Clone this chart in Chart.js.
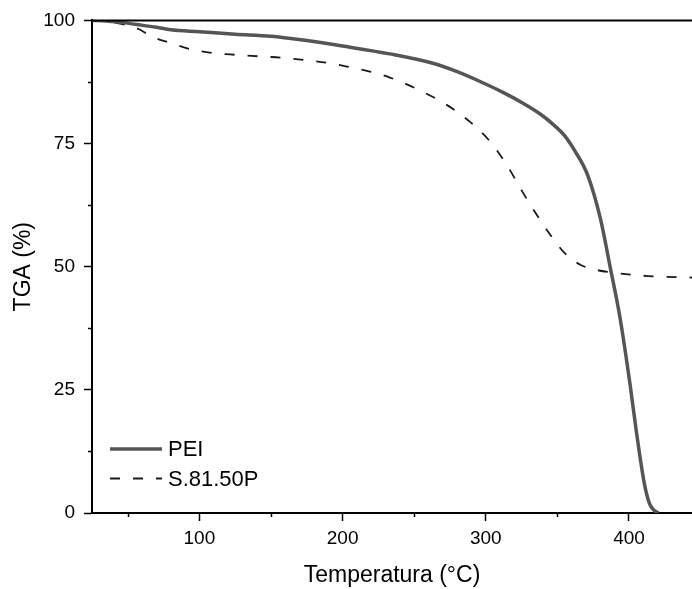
<!DOCTYPE html>
<html>
<head>
<meta charset="utf-8">
<script src="https://cdn.jsdelivr.net/npm/chart.js@4/dist/chart.umd.min.js"></script>
<style>
  html, body { margin: 0; padding: 0; background: #fff; }
  #chart { display: block; }
</style>
</head>
<body>
<canvas id="chart" width="692" height="589"></canvas>
<script>
// TGA curves
const peiTemp = [25, 35, 45, 58, 70, 80, 100, 125, 150, 175, 200, 233, 263, 280, 296, 312, 326, 338, 347, 355, 362, 371, 380, 387, 393.7, 400.7, 405.3, 410.7, 414.2, 417, 420.5];
const peiTga  = [100, 99.9, 99.6, 99.1, 98.6, 98.1, 97.7, 97.2, 96.8, 95.9, 94.8, 93.2, 91.3, 89.6, 87.6, 85.4, 83.2, 81.0, 78.9, 76.6, 73.6, 68.7, 59.8, 49.7, 39.7, 26.2, 16.2, 6.0, 2.0, 0.7, 0];

const s81Temp = [25, 40, 50, 58, 65, 72, 79, 93, 109, 126, 142, 158, 175, 191, 205, 219, 233, 256, 273, 289, 303, 315, 325, 335, 345, 355, 366, 378, 389, 413, 444];
const s81Tga  = [100, 99.6, 99.0, 98.2, 97.0, 96.1, 95.5, 94.2, 93.4, 93.0, 92.7, 92.4, 91.9, 91.3, 90.5, 89.6, 88.4, 85.5, 82.8, 79.4, 75.4, 70.5, 65.5, 60.8, 56.5, 52.8, 50.4, 49.3, 48.8, 48.1, 47.8];

const seriesNames = ['PEI', 'S.81.50P'];
const xTicks = [100, 200, 300, 400];
const xMinor = [50, 150, 250, 350];
const yTicks = [0, 25, 50, 75, 100];
const yMinor = [12.5, 37.5, 62.5, 87.5];

const FONT = '"Liberation Sans", Arial, sans-serif';

function toPoints(xs, ys) {
  return xs.map((x, i) => ({ x: x, y: ys[i] }));
}

// top frame line + minor ticks
const framePlugin = {
  id: 'frame',
  afterDraw(chart) {
    const ctx = chart.ctx;
    const area = chart.chartArea;
    const xs = chart.scales.x, ys = chart.scales.y;
    ctx.save();
    ctx.strokeStyle = '#000';
    ctx.lineWidth = 2;
    ctx.beginPath();
    ctx.moveTo(area.left, area.top);
    ctx.lineTo(area.right, area.top);
    ctx.stroke();
    ctx.lineWidth = 1.5;
    ctx.beginPath();
    xMinor.forEach(v => {
      const px = Math.round(xs.getPixelForValue(v)) + 0.5;
      ctx.moveTo(px, area.bottom);
      ctx.lineTo(px, area.bottom + 4);
    });
    yMinor.forEach(v => {
      const py = Math.round(ys.getPixelForValue(v)) + 0.5;
      ctx.moveTo(area.left, py);
      ctx.lineTo(area.left - 4, py);
    });
    ctx.stroke();
    ctx.restore();
  }
};

// legend inside the plot, bottom left
const legendPlugin = {
  id: 'innerLegend',
  afterDatasetsDraw(chart) {
    const ctx = chart.ctx;
    const area = chart.chartArea;
    ctx.save();
    ctx.font = '22px ' + FONT;
    ctx.textBaseline = 'middle';
    ctx.fillStyle = '#000';
    chart.data.datasets.forEach((ds, i) => {
      const y = area.bottom - 64 + i * 29.5;
      const x0 = area.left + 18;
      ctx.strokeStyle = ds.borderColor;
      ctx.lineWidth = ds.borderWidth;
      ctx.setLineDash(ds.borderDash || []);
      ctx.beginPath();
      ctx.moveTo(x0, y);
      ctx.lineTo(x0 + 52, y);
      ctx.stroke();
      ctx.setLineDash([]);
      ctx.fillText(ds.label, x0 + 58, y + 1);
    });
    ctx.restore();
  }
};

const ctx = document.getElementById('chart').getContext('2d');
new Chart(ctx, {
  type: 'line',
  data: {
    datasets: [
      {
        label: seriesNames[0],
        data: toPoints(peiTemp, peiTga),
        borderColor: '#555555',
        borderWidth: 3.5,
        pointRadius: 0,
        cubicInterpolationMode: 'monotone',
        fill: false
      },
      {
        label: seriesNames[1],
        data: toPoints(s81Temp, s81Tga),
        borderColor: '#1a1a1a',
        borderWidth: 1.8,
        borderDash: [10, 13],
        pointRadius: 0,
        cubicInterpolationMode: 'monotone',
        fill: false
      }
    ]
  },
  options: {
    responsive: false,
    animation: false,
    events: [],
    layout: { padding: { top: 18, right: 0, bottom: 0, left: 0 } },
    plugins: {
      legend: { display: false },
      tooltip: { enabled: false }
    },
    scales: {
      x: {
        type: 'linear',
        min: 25,
        max: 444,
        afterBuildTicks: s => { s.ticks = xTicks.map(v => ({ value: v })); },
        afterFit: s => { s.height = 76; },
        border: { display: true, color: '#000', width: 2 },
        grid: { drawOnChartArea: false, drawTicks: true, tickLength: 8, tickColor: '#000', tickWidth: 1.5 },
        ticks: { color: '#000', padding: 6, maxRotation: 0, font: { family: FONT, size: 19 } },
        title: {
          display: true,
          text: 'Temperatura (°C)',
          color: '#000',
          padding: { top: 0, bottom: 0 },
          font: { family: FONT, size: 23 }
        }
      },
      y: {
        type: 'linear',
        min: 0,
        max: 100,
        afterBuildTicks: s => { s.ticks = yTicks.map(v => ({ value: v })); },
        afterFit: s => { s.width = 92; },
        border: { display: true, color: '#000', width: 2 },
        grid: { drawOnChartArea: false, drawTicks: true, tickLength: 8, tickColor: '#000', tickWidth: 1.5 },
        ticks: { color: '#000', padding: 9, font: { family: FONT, size: 19 } },
        title: {
          display: true,
          text: 'TGA (%)',
          color: '#000',
          padding: { top: 10, bottom: 0 },
          font: { family: FONT, size: 23 }
        }
      }
    }
  },
  plugins: [framePlugin, legendPlugin]
});
</script>
</body>
</html>
